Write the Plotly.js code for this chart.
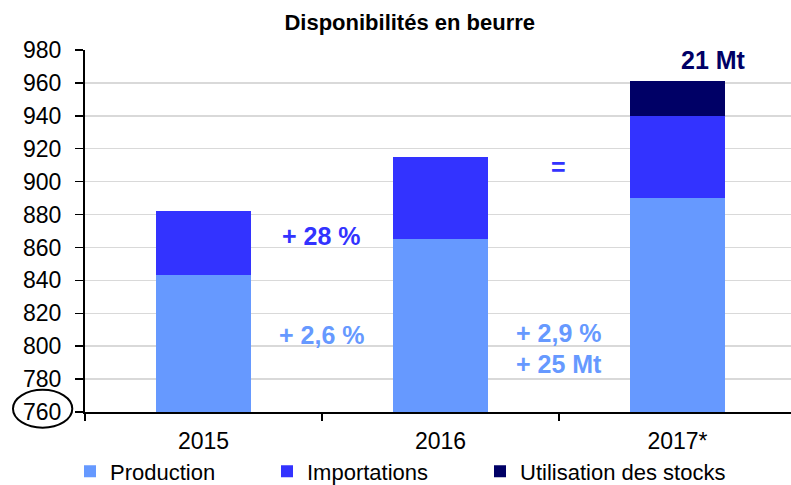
<!DOCTYPE html>
<html>
<head>
<meta charset="utf-8">
<script src="https://cdn.plot.ly/plotly-3.0.1.min.js"></script>
<style>html,body{margin:0;padding:0;background:#fff;}#chart{width:791px;height:485px;}</style>
</head>
<body>
<div id="chart"></div>
<script>
const categories = ['2015', '2016', '2017*'];
const production = [843, 865, 890];
const importations = [39, 50, 50];
const stocks = [0, 0, 21];
const seriesNames = ['Production', 'Importations', 'Utilisation des stocks'];
const yTicks = [760, 780, 800, 820, 840, 860, 880, 900, 920, 940, 960, 980];
const notes = [
  {text: '+ 28 %', cat: 0.5, value: 867, color: '#3333FF'},
  {text: '+ 2,6 %', cat: 0.5, value: 807, color: '#6699FF'},
  {text: '=', cat: 1.5, value: 909, color: '#3333FF'},
  {text: '+ 2,9 %', cat: 1.5, value: 808, color: '#6699FF'},
  {text: '+ 25 Mt', cat: 1.5, value: 789, color: '#6699FF'},
  {text: '21 Mt', cat: 2, value: 974, color: '#000066', xshift: 36}
];

const colors = ['#6699FF', '#3333FF', '#000066'];
const legendWidths = [152, 168, 235];
const font = 'Arial, "Liberation Sans", sans-serif';
const traces = [production, importations, stocks].map((v, i) => ({
  type: 'bar', x: categories, y: v, name: seriesNames[i],
  marker: {color: colors[i]}, width: 0.4, legendwidth: legendWidths[i]
}));

const annotations = notes.map(n => ({
  text: '<b>' + n.text + '</b>', x: n.cat, y: n.value, xref: 'x', yref: 'y',
  showarrow: false, xshift: n.xshift || 0,
  font: {family: font, size: 25, color: n.color}
}));

const yMin = yTicks[0], yMax = yTicks[yTicks.length - 1];
const toPaper = v => (v - yMin) / (yMax - yMin);

const layout = {
  width: 791, height: 485,
  margin: {l: 85, r: 0, t: 50, b: 73},
  paper_bgcolor: '#fff', plot_bgcolor: '#fff',
  barmode: 'stack',
  showlegend: true,
  title: {text: '<b>Disponibilités en beurre</b>', x: 0.518, xref: 'container', y: 0.953, yref: 'container', yanchor: 'middle',
    font: {family: font, size: 22, color: '#000'}},
  xaxis: {type: 'category', range: [-0.5, 2.479], tickson: 'boundaries', ticks: 'outside', ticklen: 7, tickwidth: 1.5, tickcolor: '#000',
    showline: true, linecolor: '#000', linewidth: 2, showgrid: false,
    tickfont: {family: font, size: 23, color: '#000'}, ticklabelstandoff: 7},
  yaxis: {range: [yMin, yMax], tickvals: yTicks, ticks: 'outside', ticklen: 8, tickwidth: 1.5, tickcolor: '#000',
    showline: true, linecolor: '#000', linewidth: 2, gridcolor: '#d9d9d9', gridwidth: 1.5, zeroline: false,
    tickfont: {family: font, size: 23, color: '#000'}, ticklabelstandoff: 9},
  legend: {orientation: 'h', x: 0.0885, xref: 'container', xanchor: 'left', y: 0.028, yref: 'container', yanchor: 'middle',
    font: {family: font, size: 22, color: '#000'}, traceorder: 'normal', itemwidth: 30},
  annotations: annotations,
  shapes: [{type: 'circle', xref: 'paper', yref: 'paper', x0: -0.102, x1: -0.018,
    y0: toPaper(yMin - 9.5), y1: toPaper(yMin + 13.5), line: {color: '#000', width: 2}, fillcolor: 'rgba(0,0,0,0)', layer: 'above'}]
};

Plotly.newPlot('chart', traces, layout, {staticPlot: true, displayModeBar: false});
</script>
</body>
</html>
